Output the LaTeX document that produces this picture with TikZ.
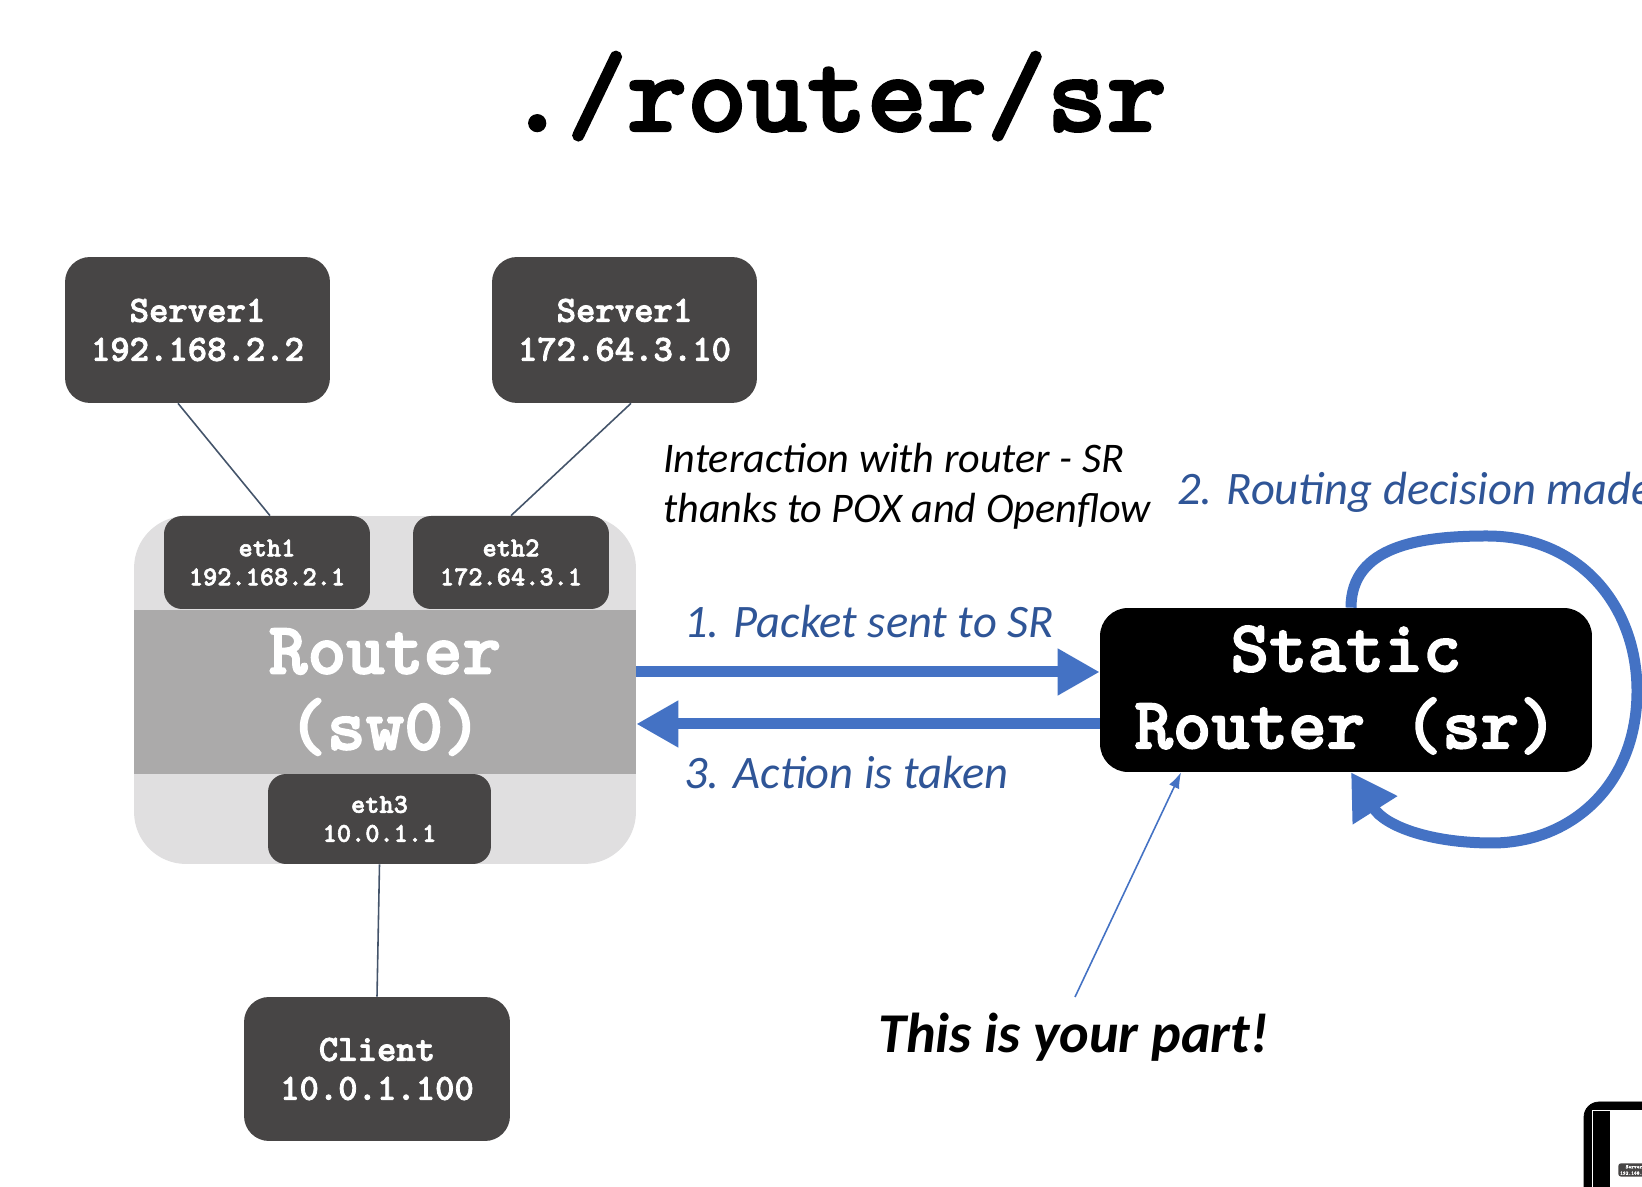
\documentclass[tikz,border=0pt]{standalone}
\usepackage{fontspec}
\newfontfamily\calib{Carlito}
\newfontfamily\courier{lmmonolt10-bold.otf}[FakeBold=2.2]
\usetikzlibrary{arrows.meta}
\definecolor{boxgrey}{HTML}{474545}
\definecolor{routergrey}{HTML}{E0DFE0}
\definecolor{bandgrey}{HTML}{ABAAAA}
\definecolor{flowblue}{HTML}{4472C4}
\definecolor{lblblue}{HTML}{2F5597}
\definecolor{linkgrey}{HTML}{44546A}
\tikzset{
	hostbox/.style={fill=boxgrey, rounded corners=0.5cm, text=white, align=center, inner sep=0pt, minimum width=5.3cm, minimum height=2.92cm, font=\courier\fontsize{21}{22.2}\selectfont},
	ethbox/.style={fill=boxgrey, rounded corners=0.36cm, text=white, align=center, inner sep=0pt, minimum height=1.86cm, font=\courier\fontsize{15.4}{16.5}\selectfont},
	link/.style={draw=linkgrey, line width=0.9pt},
	flow/.style={draw=flowblue, line width=0.22cm, -{Triangle[length=0.84cm,width=0.88cm]}},
	hint/.style={draw=flowblue, line width=0.9pt, -{Latex[length=0.32cm,width=0.22cm]}},
	bluelbl/.style={text=lblblue, anchor=west, inner sep=0pt, font=\calib\itshape\fontsize{26.5}{30}\selectfont},
	blacklbl/.style={text=black, anchor=west, inner sep=0pt, font=\calib\itshape\fontsize{24}{28.5}\selectfont},
}
\begin{document}
\begin{tikzpicture}[x=0.02cm,y=0.02cm]
	\useasboundingbox[fill=white] (0,0) rectangle (1642,1186);
	\node[anchor=base, inner sep=0pt, font=\courier\fontsize{65}{70}\selectfont] (title) at (837,1055) {./router/sr};
	% hosts
	\node[hostbox] (srvA) at (197.5,856) {Server1\\192.168.2.2};
	\node[hostbox] (srvB) at (624.5,856) {Server1\\172.64.3.10};
	\node[hostbox, minimum width=5.32cm, minimum height=2.88cm] (client) at (377,117) {Client\\10.0.1.100};
	% router sw0
	\node[fill=routergrey, rounded corners=1.04cm, minimum width=10.04cm, minimum height=6.96cm, inner sep=0pt] (router) at (385,496) {};
	\node[fill=bandgrey, text=white, align=center, minimum width=10.04cm, minimum height=3.28cm, inner sep=0pt, font=\courier\fontsize{42}{43.2}\selectfont] (band) at (385,494) {Router\\(sw0)};
	\node[ethbox, minimum width=4.12cm] (ethA) at (267,623.5) {eth1\\192.168.2.1};
	\node[ethbox, minimum width=3.92cm] (ethB) at (511,623.5) {eth2\\172.64.3.1};
	\node[ethbox, minimum width=4.46cm, minimum height=1.8cm] (ethC) at (379.5,367) {eth3\\10.0.1.1};
	\draw[link] ([xshift=-0.39cm]srvA.south) -- ([xshift=0.06cm]ethA.north);
	\draw[link] ([xshift=0.13cm]srvB.south) -- (ethB.north);
	\draw[link] (ethC.south) -- (client.north);
	% static router
	\node[fill=black, rounded corners=0.56cm, text=white, align=center, minimum width=9.84cm, minimum height=3.28cm, inner sep=0pt, font=\courier\fontsize{41.7}{43.8}\selectfont] (sr) at (1346,496) {Static\\Router (sr)};
	\draw[flow] ([yshift=0.36cm]router.east) -- ([yshift=0.36cm]sr.west);
	\draw[flow] ([yshift=-0.68cm]sr.west) -- ([yshift=-0.68cm]router.east);
	\draw[flow, -{Triangle[length=0.9cm,width=1cm]}] ([xshift=0.1cm]sr.north) .. controls (1351,640) and (1420,650) .. (1487,650) .. controls (1580,650) and (1637,580) .. (1637,495) .. controls (1637,400) and (1570,343) .. (1492,343) .. controls (1430,343) and (1385,360) .. ([xshift=0.1cm]sr.south);
	\node[blacklbl, align=left] (interact) at (663,700) {Interaction with router - SR\\thanks to POX and Openflow};
	\node[bluelbl] (decision) at (1177,694) {2. Routing decision made};
	\node[bluelbl] (packet) at (684,564) {1. Packet sent to SR};
	\node[bluelbl] (action) at (684,413) {3. Action is taken};
	\node[blacklbl, font=\calib\bfseries\itshape\fontsize{32}{36}\selectfont] (yours) at (878,149) {This is your part!};
	\coordinate (pointer) at (1075,189);
	\draw[hint] (pointer) -- ([xshift=-3.3cm]sr.south);
	% thumbnail in the corner
	\draw[fill=black, rounded corners=0.3cm] (1584,84) rectangle (1720,-40);
	\fill[white] (1592,76) rectangle (1720,-40);
	\fill[black] (1593,75) rectangle (1610,-40);
	\node[fill=boxgrey, rounded corners=0.05cm, text=white, anchor=north west, align=center, inner sep=1pt, font=\courier\fontsize{3}{3.6}\selectfont] (thumb) at (1618,23) {Server1\\192.168.2.2};
\end{tikzpicture}
\end{document}
